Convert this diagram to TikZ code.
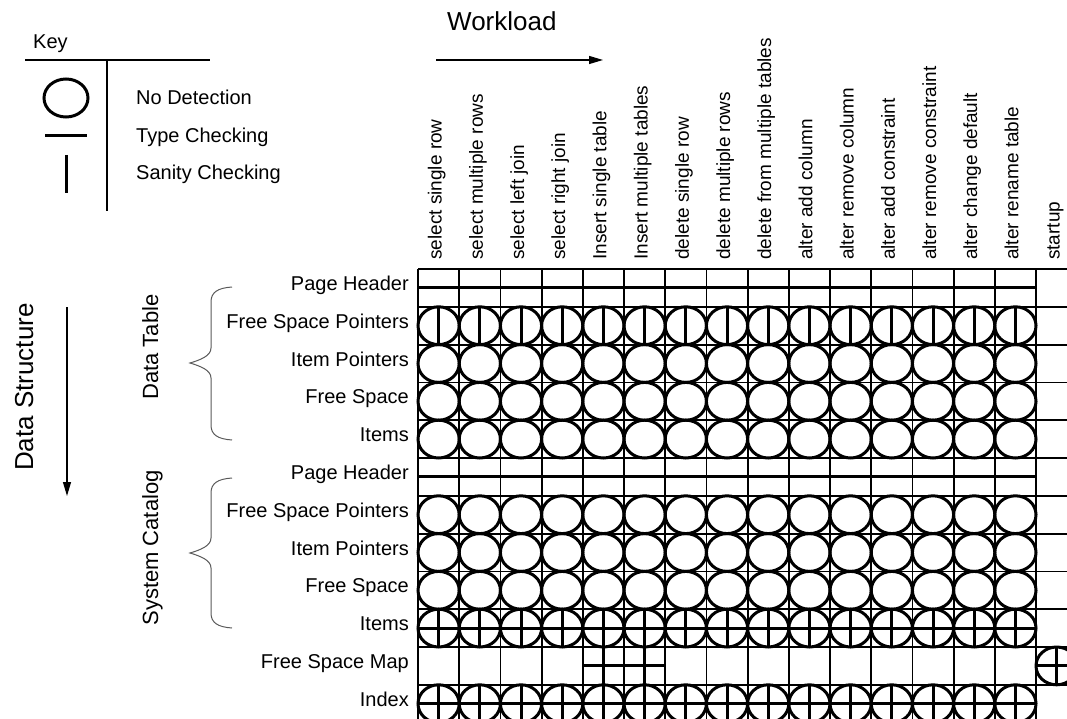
\documentclass[tikz,border=0pt]{standalone}
\usepackage{fontspec}
\setmainfont{Liberation Sans}
\usetikzlibrary{arrows.meta}
\begin{document}
\begin{tikzpicture}[x=1pt,y=-1pt,
  lbl/.style={font=\fontsize{20}{24}\selectfont, inner sep=0pt, anchor=base east},
  keytxt/.style={font=\fontsize{20}{24}\selectfont, inner sep=0pt, anchor=base west},
  hdr/.style={font=\fontsize{19}{23}\selectfont, inner sep=0pt, anchor=base west, rotate=90},
  grp/.style={font=\fontsize{22}{26}\selectfont, inner sep=0pt, anchor=base, rotate=90},
  big/.style={font=\fontsize{26}{30}\selectfont, inner sep=0pt},
  gridline/.style={line width=1.8pt},
  sym/.style={line width=3pt},
  thinline/.style={line width=1.2pt},
  brace/.style={line width=1pt, draw=black!65},
  arr/.style={thinline, -{Triangle[length=14pt,width=8pt]}},
  ]
\useasboundingbox (0,0) rectangle (1067,719);
\clip (0,0) rectangle (1067,719);
\def\cw{41.2}\def\rh{37.8}\def\gx{418}\def\gy{269}
\def\rx{20.6pt}\def\ry{18.9pt}
% ---------- Key ----------
\node[keytxt] (key) at (33,49) {Key};
\draw[thinline] (25,60) -- (210,60);
\draw[thinline] (107,60) -- (107,211);
\draw[sym] (66,98) ellipse [x radius=22pt, y radius=19pt];
\draw[sym] (45,136) -- (87,136);
\draw[sym] (66,155) -- (66,193);
\node[keytxt] (k1) at (136,105) {No Detection};
\node[keytxt] (k2) at (136,143) {Type Checking};
\node[keytxt] (k3) at (136,180) {Sanity Checking};
% ---------- Workload ----------
\node[big, anchor=base west] (wl) at (447,31) {Workload};
\coordinate (wa) at (436,60);
\coordinate (wb) at (603,60);
\draw[arr] (wa) -- (wb);
% ---------- Data Structure ----------
\node[big, anchor=base, rotate=90] (ds) at (33,387) {Data Structure};
\coordinate (da) at (67,307);
\coordinate (db) at (67,496);
\draw[arr] (da) -- (db);
% ---------- groups and braces ----------
\node[grp] (dt) at (158,347) {Data Table};
\node[grp] (sc) at (158,548) {System Catalog};
\draw[brace] (232,287) .. controls (218,288) and (211,292) .. (211,302)
  -- (211,348) .. controls (211,356) and (200,360) .. (190,363)
  .. controls (200,366) and (211,370) .. (211,378)
  -- (211,425) .. controls (211,435) and (218,439) .. (232,440);
\draw[brace] (232,478) .. controls (218,479) and (211,483) .. (211,493)
  -- (211,538) .. controls (211,546) and (200,550) .. (190,553)
  .. controls (200,556) and (211,560) .. (211,568)
  -- (211,613) .. controls (211,623) and (218,627) .. (232,628);
% ---------- grid ----------
\foreach \k in {0,...,12}
  \draw[gridline] (\gx,\gy+\k*\rh) -- (1067,\gy+\k*\rh);
\foreach \k in {0,...,15}
  \draw[gridline] (\gx+\k*\cw,\gy) -- (\gx+\k*\cw,719);
% ---------- row labels ----------
\foreach \r/\t in {1/Page Header,2/Free Space Pointers,3/Item Pointers,4/Free Space,5/Items,
                   6/Page Header,7/Free Space Pointers,8/Item Pointers,9/Free Space,10/Items,
                   11/Free Space Map,12/Index}
  \node[lbl] (row\r) at (409,\gy+\r*\rh-0.5*\rh+2.5) {\t};
% ---------- column headers ----------
\foreach \c/\t in {1/select single row,2/select multiple rows,3/select left join,4/select right join,
                   5/Insert single table,6/Insert multiple tables,7/delete single row,
                   8/delete multiple rows,9/delete from multiple tables,10/alter add column,
                   11/alter remove column,12/alter add constraint,13/alter remove constraint,
                   14/alter change default,15/alter rename table,16/startup}
  \node[hdr] (col\c) at (\gx+\c*\cw-0.5*\cw+3,260) {\t};
% ---------- page header lines (type checking) ----------
\foreach \r in {1,6}
  \draw[sym] (\gx,\gy+\r*\rh-0.5*\rh) -- (\gx+15*\cw,\gy+\r*\rh-0.5*\rh);
% ---------- circles ----------
\foreach \r in {2,3,4,5,7,8,9,10,12}
  \foreach \c in {1,...,15}
    \draw[sym] (\gx+\c*\cw-0.5*\cw,\gy+\r*\rh-0.5*\rh) ellipse [x radius=\rx, y radius=\ry];
% sanity checking lines
\foreach \r in {2,10,12}
  \foreach \c in {1,...,15}
    \draw[sym] (\gx+\c*\cw-0.5*\cw,\gy+\r*\rh-\rh) -- (\gx+\c*\cw-0.5*\cw,\gy+\r*\rh);
% type checking lines
\foreach \r in {10,12}
  \draw[sym] (\gx,\gy+\r*\rh-0.5*\rh) -- (\gx+15*\cw,\gy+\r*\rh-0.5*\rh);
% ---------- free space map row ----------
\draw[sym] (\gx+4*\cw,\gy+10.5*\rh) -- (\gx+6*\cw,\gy+10.5*\rh);
\foreach \c in {5,6}
  \draw[sym] (\gx+\c*\cw-0.5*\cw,\gy+10*\rh) -- (\gx+\c*\cw-0.5*\cw,\gy+11*\rh);
% startup cell
\draw[sym] (\gx+15.5*\cw,\gy+10.5*\rh) ellipse [x radius=\rx, y radius=\ry];
\draw[sym] (\gx+15*\cw,\gy+10.5*\rh) -- (\gx+16*\cw,\gy+10.5*\rh);
\draw[sym] (\gx+15.5*\cw,\gy+10*\rh) -- (\gx+15.5*\cw,\gy+11*\rh);
\end{tikzpicture}
\end{document}
